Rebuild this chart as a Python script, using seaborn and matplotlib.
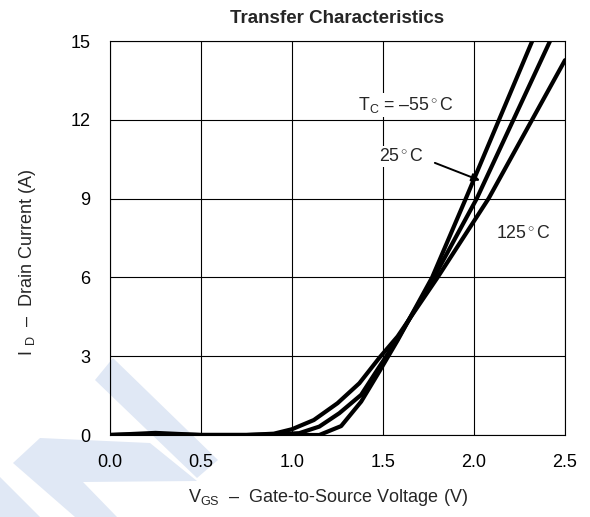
import matplotlib
matplotlib.use("Agg")
import matplotlib.pyplot as plt
from matplotlib.patches import Polygon
import seaborn as sns
import pandas as pd
import numpy as np

# curves (V_GS in V, I_D in A)
vgs_m55 = [0.0, 0.25, 0.5, 0.75, 1.0, 1.15, 1.27, 1.38, 1.48, 1.58, 1.77, 1.955, 2.32, 2.45]
id_m55 = [0.0, 0.0, 0.0, 0.0, 0.0, 0.0, 0.34, 1.27, 2.42, 3.6, 6.0, 9.0, 15.0, 17.1]

vgs_25 = [0.0, 0.25, 0.5, 0.75, 0.9, 1.04, 1.15, 1.26, 1.38, 1.48, 1.58, 1.78, 2.015, 2.418, 2.5]
id_25 = [0.0, 0.03, 0.0, 0.0, 0.02, 0.07, 0.32, 0.83, 1.53, 2.6, 3.65, 6.0, 9.0, 15.0, 16.2]

vgs_125 = [0.0, 0.25, 0.5, 0.75, 0.9, 1.0, 1.12, 1.25, 1.37, 1.48, 1.58, 1.80, 2.08, 2.5]
id_125 = [0.0, 0.08, 0.0, 0.0, 0.05, 0.22, 0.57, 1.21, 1.97, 2.94, 3.75, 6.0, 9.0, 14.27]

temps = ["-55", "25", "125"]
x_ticks = [0.0, 0.5, 1.0, 1.5, 2.0, 2.5]
x_tick_labels = ["0.0", "0.5", "1.0", "1.5", "2.0", "2.5"]
y_ticks = [0, 3, 6, 9, 12, 15]

df = pd.concat([
    pd.DataFrame({"vgs": vgs_m55, "id": id_m55, "temp": "-55"}),
    pd.DataFrame({"vgs": vgs_25, "id": id_25, "temp": "25"}),
    pd.DataFrame({"vgs": vgs_125, "id": id_125, "temp": "125"}),
])

sns.set_style("white")
plt.rcParams["font.family"] = ["Liberation Sans", "DejaVu Sans"]
plt.rcParams["mathtext.fontset"] = "custom"
plt.rcParams["mathtext.rm"] = "Liberation Sans"
plt.rcParams["mathtext.it"] = "Liberation Sans:italic"

W, H = 590, 517
fig = plt.figure(figsize=(W / 100, H / 100), dpi=100)
ax = fig.add_axes([110 / W, 1 - 435 / H, 455 / W, 394 / H])
ax.set_facecolor("none")

# faint watermark in the lower-left corner (pixel outlines)
watermark = [
    [(95, 380), (113, 358), (218, 460), (197, 478)],
    [(40, 438), (150, 443), (197, 481), (83, 482), (117, 517), (75, 517), (13, 463)],
    [(0, 477), (0, 517), (40, 517)],
]
for pts in watermark:
    poly = Polygon([(x / W, 1 - y / H) for x, y in pts], closed=True,
                   facecolor="#e0e8f5", edgecolor="none",
                   transform=fig.transFigure, zorder=-5)
    fig.add_artist(poly)

sns.lineplot(data=df, x="vgs", y="id", hue="temp", hue_order=temps,
             palette={t: "black" for t in temps}, sort=False,
             estimator=None, legend=False, linewidth=3, ax=ax, zorder=3)

ax.set_xlim(0, 2.5)
ax.set_ylim(0, 15)
ax.set_xticks(x_ticks)
ax.set_xticklabels(x_tick_labels)
ax.set_yticks(y_ticks)
ax.tick_params(length=0, labelsize=13, colors="black")
ax.tick_params(axis="x", pad=14)
ax.tick_params(axis="y", pad=14)
ax.grid(True, color="black", linewidth=0.8)
for s in ax.spines.values():
    s.set_color("black")
    s.set_linewidth(0.8)
ax.set_xlabel("")
ax.set_ylabel("")

ax.set_title("Transfer Characteristics", fontsize=13.5, fontweight="bold", pad=13)

fs = 12.8
bg = dict(facecolor="white", edgecolor="none", pad=1.5)
ax.text(1.36, 12.55, r"T$_\mathregular{C}$ = –55$^\circ$C", fontsize=fs,
        va="center", ha="left", bbox=bg, zorder=4)
ax.text(1.48, 10.6, r"25$^\circ$C", fontsize=fs, va="center", ha="left",
        bbox=bg, zorder=4)
ax.annotate("", xy=(2.033, 9.69), xytext=(1.785, 10.36),
            arrowprops=dict(arrowstyle="-|>", color="black", lw=1.4,
                            mutation_scale=12, shrinkA=0, shrinkB=0), zorder=5)
ax.text(2.12, 7.67, r"125$^\circ$C", fontsize=fs, va="center", ha="left",
        bbox=bg, zorder=4)

fig.text(328 / W, 1 - 497 / H, r"V$_\mathregular{GS}$  –  Gate-to-Source Voltage (V)",
         fontsize=13, ha="center", va="center")
fig.text(28 / W, 1 - 262 / H, r"I $_\mathregular{D}$  –  Drain Current (A)",
         fontsize=13, ha="center", va="center", rotation=90)

fig.savefig("out.png", dpi=100)
